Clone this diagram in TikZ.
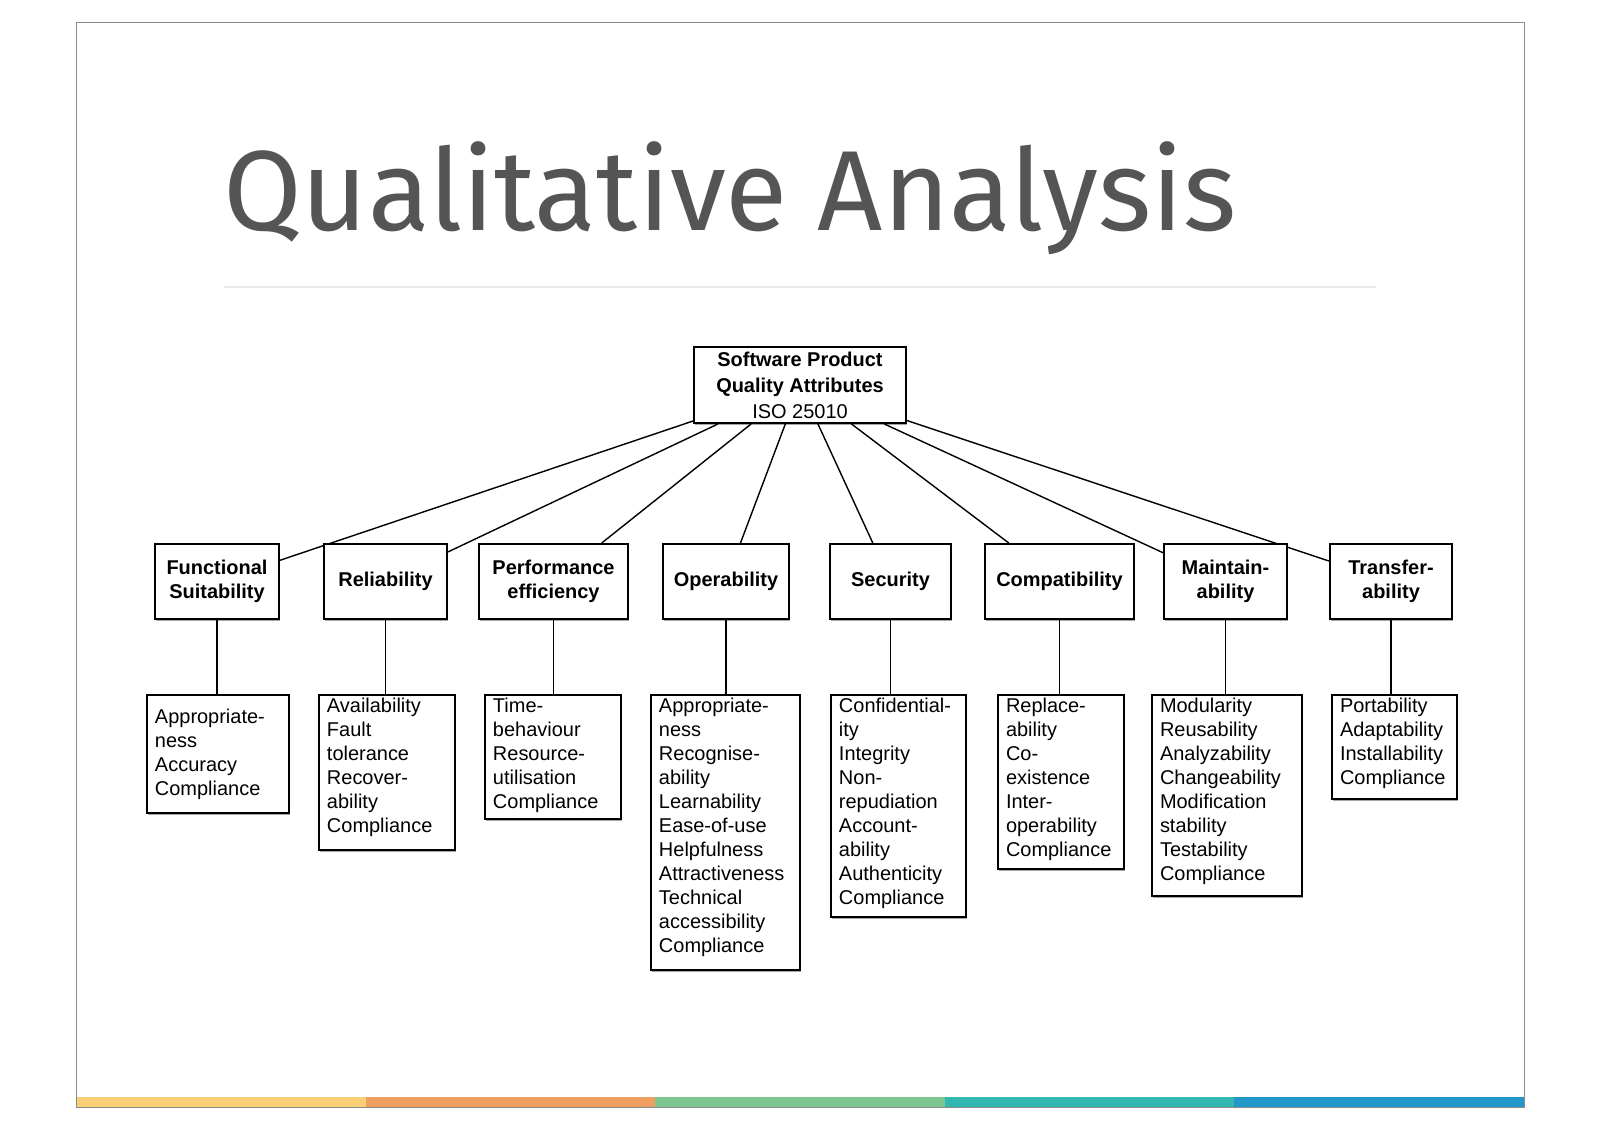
\documentclass[tikz,border=0pt]{standalone}
\usepackage{fontspec}
\setmainfont{Liberation Sans}
\newfontfamily\titlefont{Fira Sans}
\usetikzlibrary{backgrounds,shadows}

\definecolor{titlegray}{HTML}{555555}
\definecolor{rulegray}{HTML}{E9E9E9}
\definecolor{framegray}{HTML}{8C8C8C}
\definecolor{baryellow}{HTML}{F8CF74}
\definecolor{barorange}{HTML}{F19E63}
\definecolor{bargreen}{HTML}{7BC78F}
\definecolor{barteal}{HTML}{32B8B1}
\definecolor{barblue}{HTML}{2397C9}

\newcommand{\itemlist}[4][t]{\parbox[t][#2][#1]{#3}{\raggedright #4}}

\tikzset{
  boxshadow/.style={drop shadow={shadow xshift=0.35mm, shadow yshift=-0.55mm, fill=black, opacity=0.35}},
  root/.style={draw, fill=white, line width=1.4pt, boxshadow, align=center, inner sep=0pt,
    minimum width=53mm, minimum height=19mm, font=\bfseries\fontsize{14.2}{18.5}\selectfont},
  attr/.style={draw, fill=white, line width=1.4pt, boxshadow, align=center, inner sep=0pt,
    minimum height=18.75mm, font=\bfseries\fontsize{14.2}{17.3}\selectfont},
  leaf/.style={draw, fill=white, line width=1.4pt, boxshadow, anchor=north west,
    inner xsep=2mm, inner ysep=0.85mm, font=\fontsize{14.2}{17.07}\selectfont},
  link/.style={line width=1pt}
}

\begin{document}
\begin{tikzpicture}[x=0.25mm, y=-0.25mm]
\useasboundingbox (0,0) rectangle (1600,1131);

\begin{scope}[on background layer]
\fill[white] (0,0) rectangle (1600,1131);
\end{scope}

%% Slide: colour bar and frame
\foreach \c [count=\i from 0] in {baryellow,barorange,bargreen,barteal,barblue}
  \fill[\c] ({76+\i*289.6},1097) rectangle ({76+(\i+1)*289.6},1107);
\draw[framegray, line width=0.5pt] (76,22.5) rectangle (1524,1107);

%% Title
\node[anchor=base west, inner sep=0pt, text=titlegray,
  font=\titlefont\fontsize{81}{90}\selectfont] (title) at (223,230) {Qualitative Analysis};
\draw[rulegray, line width=0.7mm] (224,287) -- (1376,287);

%% Root
\node[root] (sw) at (800,385) {Software Product\\Quality Attributes\\{\mdseries ISO 25010}};

%% Characteristics
\node[attr, minimum width=31mm]    (fs2)   at (217,581.5)    {Functional\\Suitability};
\node[attr, minimum width=30.75mm] (rel2)  at (385.5,581.5)  {Reliability};
\node[attr, minimum width=37.25mm] (perf2) at (553.5,581.5)  {Performance\\efficiency};
\node[attr, minimum width=31.5mm]  (oper2) at (726,581.5)    {Operability};
\node[attr, minimum width=30.25mm] (sec2)  at (890.5,581.5)  {Security};
\node[attr, minimum width=37.25mm] (comp2) at (1059.5,581.5) {Compatibility};
\node[attr, minimum width=30.75mm] (main2) at (1225.5,581.5) {Maintain-\\ability};
\node[attr, minimum width=30.5mm]  (tran2) at (1391,581.5)   {Transfer-\\ability};

%% Sub-characteristics
\node[leaf] (fs3) at (146,694)
  {\itemlist[c]{27.8mm}{31.5mm}{Appropriate-\\ness\\Accuracy\\Compliance}};
\node[leaf] (rel3) at (318,694)
  {\itemlist{37.05mm}{30mm}{Availability\\Fault\\tolerance\\Recover-\\ability\\Compliance}};
\node[leaf] (perf3) at (484,694)
  {\itemlist{29.3mm}{30mm}{Time-\\behaviour\\Resource-\\utilisation\\Compliance}};
\node[leaf] (oper3) at (650,694)
  {\itemlist{67.05mm}{33.25mm}{Appropriate-\\ness\\Recognise-\\ability\\Learnability\\Ease-of-use\\Helpfulness\\Attractiveness\\Technical\\accessibility\\Compliance}};
\node[leaf] (sec3) at (830,694)
  {\itemlist{53.8mm}{29.75mm}{Confidential-\\ity\\Integrity\\Non-\\repudiation\\Account-\\ability\\Authenticity\\Compliance}};
\node[leaf] (comp3) at (997,694)
  {\itemlist{41.8mm}{27.5mm}{Replace-\\ability\\Co-\\existence\\Inter-\\operability\\Compliance}};
\node[leaf] (main3) at (1151,694)
  {\itemlist{48.55mm}{33.5mm}{Modularity\\Reusability\\Analyzability\\Changeability\\Modification\\stability\\Testability\\Compliance}};
\node[leaf] (tran3) at (1331,694)
  {\itemlist{24.3mm}{27.25mm}{Portability\\Adaptability\\Installability\\Compliance}};

%% Connectors (behind the boxes)
\begin{scope}[on background layer]
\foreach \n in {fs2,rel2,perf2,oper2,sec2,comp2,main2,tran2}
  \draw[link] (sw) -- (\n);
\foreach \n in {fs,rel,perf,oper,sec,comp,main,tran}
  \draw[link] (\n2.south) -- (\n2.south |- \n3.north);
\end{scope}
\end{tikzpicture}
\end{document}
